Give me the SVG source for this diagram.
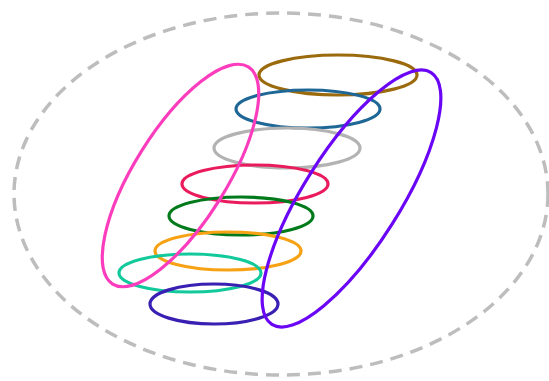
<svg xmlns="http://www.w3.org/2000/svg" width="549" height="381" viewBox="0 0 549 381">
<style>
ellipse{fill:none;stroke-width:3.2}
.outer{stroke:#bdbdbd;stroke-width:3.5;stroke-dasharray:13 8}
</style>
<rect width="549" height="381" fill="#ffffff"/>
<g id="outer"><ellipse class="outer" cx="281" cy="194" rx="267" ry="181"/></g>
<g id="brown"><ellipse cx="338" cy="75" rx="79" ry="20" stroke="#9a6a0c"/></g>
<g id="blue"><ellipse cx="308" cy="109" rx="72" ry="19" stroke="#1e6796"/></g>
<g id="gray"><ellipse cx="287" cy="148" rx="73" ry="20" stroke="#b3b3b3"/></g>
<g id="red"><ellipse cx="255" cy="184" rx="73" ry="19" stroke="#ea1b5c"/></g>
<g id="green"><ellipse cx="241" cy="216" rx="72" ry="19" stroke="#017a1b"/></g>
<g id="orange"><ellipse cx="228" cy="251" rx="73" ry="19" stroke="#f7a115"/></g>
<g id="teal"><ellipse cx="190" cy="273" rx="71" ry="19" stroke="#12c99c"/></g>
<g id="indigo"><ellipse cx="214" cy="304" rx="64" ry="20" stroke="#3a1fb3"/></g>
<g id="pink"><ellipse cx="180.5" cy="175.5" rx="128" ry="46" transform="rotate(-58 180.5 175.5)" stroke="#fb3dbd"/></g>
<g id="purple"><ellipse cx="351.5" cy="198.5" rx="149" ry="48" transform="rotate(-57.7 351.5 198.5)" stroke="#6b05f5"/></g>
</svg>
